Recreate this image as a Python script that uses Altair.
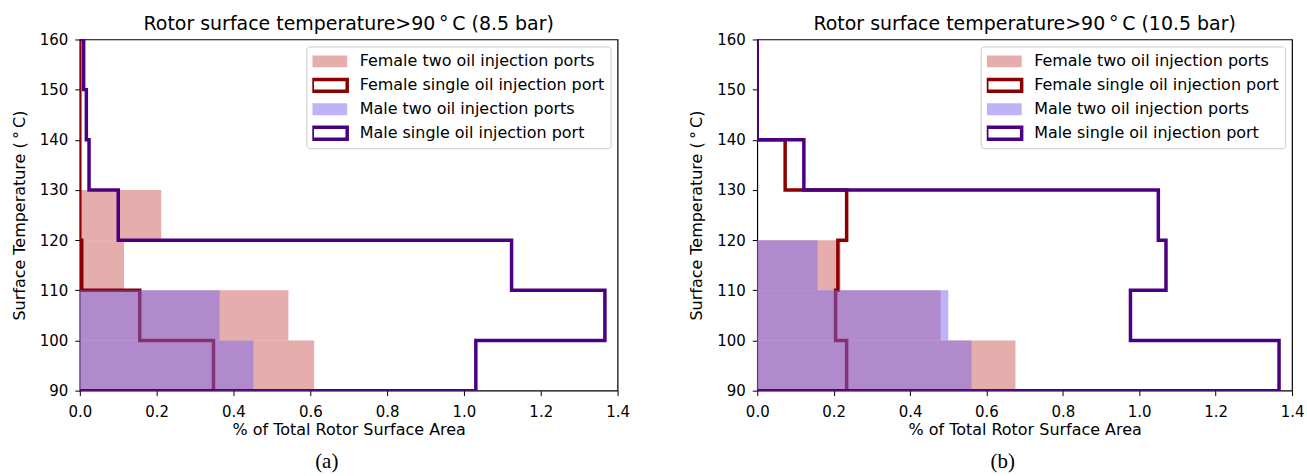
import altair as alt
import pandas as pd

FONT = "DejaVu Sans"

# Histogram bin edges (surface temperature, deg C)
BIN_EDGES = [90, 100, 110, 120, 130, 140, 150, 160]

SERIES = [
    "Female two oil injection ports",
    "Female single oil injection port",
    "Male two oil injection ports",
    "Male single oil injection port",
]
# Filled histograms: indianred / mediumslateblue at half alpha; outlines: darkred / indigo
FILL_COLORS = ["rgba(205,92,92,0.5)", "white", "rgba(123,104,238,0.5)", "white"]
STROKE_COLORS = ["transparent", "#8B0000", "transparent", "#4B0082"]

# % of total rotor surface area per 10 deg C bin, 8.5 bar
female_two_85 = [0.610, 0.543, 0.115, 0.212, 0.0, 0.0, 0.0]
female_single_85 = [0.348, 0.156, 0.005, 0.0, 0.0, 0.0, 0.0]
male_two_85 = [0.452, 0.364, 0.0, 0.0, 0.0, 0.0, 0.0]
male_single_85 = [1.031, 1.367, 1.124, 0.100, 0.024, 0.017, 0.010]

# % of total rotor surface area per 10 deg C bin, 10.5 bar
female_two_105 = [0.676, 0.480, 0.218, 0.0, 0.0, 0.0, 0.0]
female_single_105 = [0.234, 0.205, 0.211, 0.234, 0.073, 0.0, 0.0]
male_two_105 = [0.561, 0.500, 0.158, 0.0, 0.0, 0.0, 0.0]
male_single_105 = [1.366, 0.977, 1.070, 1.050, 0.122, 0.0, 0.0]

X_TICKS = [0.0, 0.2, 0.4, 0.6, 0.8, 1.0, 1.2, 1.4]
Y_TICKS = [90, 100, 110, 120, 130, 140, 150, 160]


def bar_rows(series, values):
    return pd.DataFrame({
        "series": series,
        "start": 0.0,
        "value": values,
        "lo": BIN_EDGES[:-1],
        "hi": BIN_EDGES[1:],
    })


def step_rows(series, values):
    """Outline of a horizontal step histogram, as an ordered path."""
    rows = [{"series": series, "i": 0, "x": 0.0, "y": BIN_EDGES[0]}]
    for k, v in enumerate(values):
        rows.append({"series": series, "i": 2 * k + 1, "x": v, "y": BIN_EDGES[k]})
        rows.append({"series": series, "i": 2 * k + 2, "x": v, "y": BIN_EDGES[k + 1]})
    rows.append({"series": series, "i": 2 * len(values) + 1, "x": 0.0, "y": BIN_EDGES[-1]})
    return pd.DataFrame(rows)


x_scale = alt.Scale(domain=[0, 1.4], nice=False, zero=False, padding=0)
y_scale = alt.Scale(domain=[90, 160], nice=False, zero=False, padding=0)
x_axis = alt.Axis(title="% of Total Rotor Surface Area", values=X_TICKS, format=".1f",
                  labelFlush=False)
y_axis = alt.Axis(title="Surface Temperature (\u2009°\u2009C)", values=Y_TICKS, format="d",
                  labelFlush=False)

legend = alt.Legend(
    title=None,
    orient="top-right",
    offset=7,
    padding=6,
    rowPadding=6,
    clipHeight=18,
    symbolType="M-2.5,-0.85H2.5V0.85H-2.5Z",
    symbolSize=196,
    symbolOffset=8.5,
    symbolStrokeWidth=3.5,
    symbolOpacity=1,
    labelOffset=21,
    labelFont=FONT,
    labelFontSize=16,
    labelColor="black",
    labelLimit=500,
    strokeColor="#cccccc",
    fillColor="rgba(255,255,255,0.8)",
    cornerRadius=3,
)
fill = alt.Fill("series:N", scale=alt.Scale(domain=SERIES, range=FILL_COLORS), legend=legend)
stroke = alt.Stroke("series:N", scale=alt.Scale(domain=SERIES, range=STROKE_COLORS), legend=legend)


def fill_layer(series, values):
    return alt.Chart(bar_rows(series, values)).mark_rect().encode(
        x=alt.X("start:Q", scale=x_scale, axis=x_axis),
        x2="value:Q",
        y=alt.Y("lo:Q", scale=y_scale, axis=y_axis),
        y2="hi:Q",
        fill=fill,
    )


def step_layer(series, values):
    return alt.Chart(step_rows(series, values)).mark_line(
        clip=True, strokeWidth=3.5, strokeJoin="miter", interpolate="linear"
    ).encode(
        x=alt.X("x:Q", scale=x_scale, axis=x_axis),
        y=alt.Y("y:Q", scale=y_scale, axis=y_axis),
        order=alt.Order("i:Q"),
        stroke=stroke,
    )


def panel(title, caption, width, f2, f1, m2, m1):
    cap = alt.Chart(pd.DataFrame({"caption": [caption]})).mark_text(
        font="Liberation Serif", fontSize=21, baseline="middle", align="center", color="black"
    ).encode(x=alt.value(width / 2 - 22), y=alt.value(424), text="caption:N")
    return alt.layer(
        fill_layer(SERIES[0], f2),
        step_layer(SERIES[1], f1),
        fill_layer(SERIES[2], m2),
        step_layer(SERIES[3], m1),
        cap,
    ).properties(
        width=width,
        height=352,
        title=alt.TitleParams(title, font=FONT, fontSize=19, fontWeight="normal",
                              color="black", offset=-2),
    )


left = panel("Rotor surface temperature>90\u2009°\u2009C (8.5 bar)", "(a)", 539,
             female_two_85, female_single_85, male_two_85, male_single_85)
right = panel("Rotor surface temperature>90\u2009°\u2009C (10.5 bar)", "(b)", 536,
              female_two_105, female_single_105, male_two_105, male_single_105)

chart = alt.hconcat(left, right, spacing=57).resolve_scale(
    fill="independent", stroke="independent"
).resolve_legend(
    fill="independent", stroke="independent"
).properties(
    padding={"left": 10, "top": 14, "right": 2, "bottom": 2},
    background="white",
).configure_view(
    stroke="black", strokeWidth=1.2
).configure_axis(
    grid=False,
    domain=False,
    labelFont=FONT,
    labelFontSize=15,
    labelColor="black",
    labelPadding=7,
    tickColor="black",
    tickSize=5,
    tickWidth=1,
    titleFont=FONT,
    titleFontSize=16,
    titleFontWeight="normal",
    titleColor="black",
).configure_axisX(
    labelPadding=9, titlePadding=2
).configure_axisY(
    titlePadding=12
)

chart.save("out.html", embed_options={"renderer": "svg", "actions": False})
